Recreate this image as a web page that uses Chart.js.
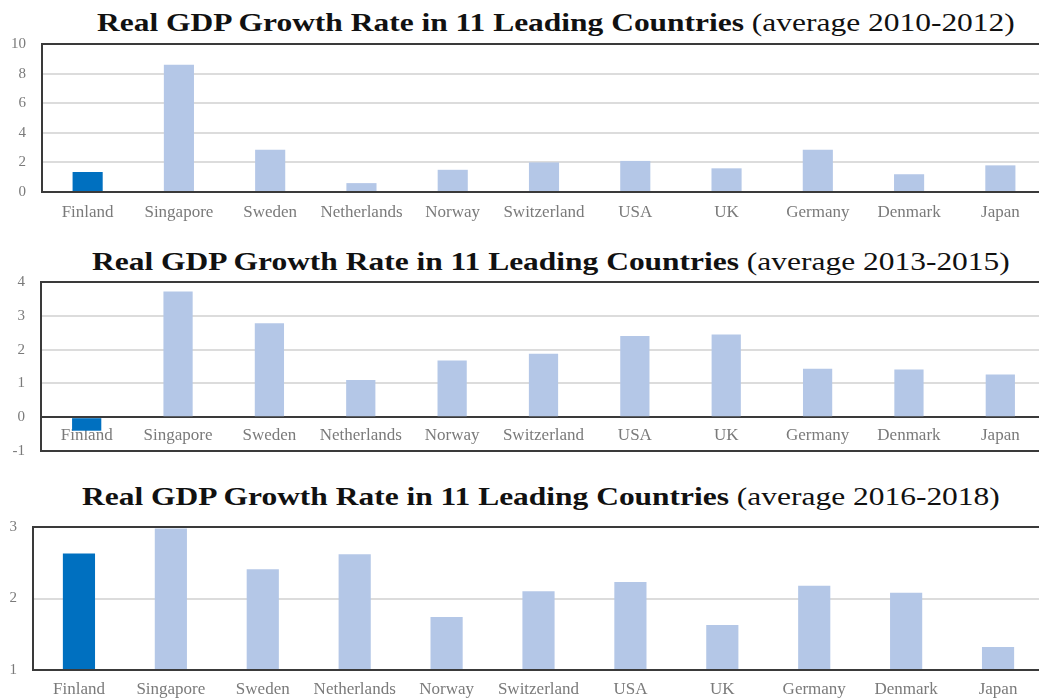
<!DOCTYPE html>
<html>
<head>
<meta charset="utf-8">
<script src="https://cdn.jsdelivr.net/npm/chart.js@4/dist/chart.umd.min.js"></script>
<style>
    body { margin: 0; background: #fff; width: 1039px; height: 698px; overflow: hidden; position: relative; }
    canvas { position: absolute; left: 0; }
    .title { position: absolute; white-space: nowrap; font-family: 'Liberation Serif', 'Times New Roman', serif; font-size: 26px; color: #111; line-height: 1; transform: scaleX(1.21); transform-origin: left center; }
    .title b { font-weight: bold; }
</style>
</head>
<body>
<div class="title" id="t1" style="left:97px; top:10px;"></div>
<canvas id="chart1" width="1050" height="205" style="top:30px;"></canvas>
<div class="title" id="t2" style="left:92px; top:249px;"></div>
<canvas id="chart2" width="1050" height="190" style="top:270px;"></canvas>
<div class="title" id="t3" style="left:82px; top:484px;"></div>
<canvas id="chart3" width="1050" height="193" style="top:505px;"></canvas>
<script>
const categories = ['Finland', 'Singapore', 'Sweden', 'Netherlands', 'Norway', 'Switzerland', 'USA', 'UK', 'Germany', 'Denmark', 'Japan'];
const growth2010to2012 = [1.35, 8.6, 2.85, 0.6, 1.5, 2.0, 2.1, 1.6, 2.85, 1.2, 1.8];
const growth2013to2015 = [-0.4, 3.72, 2.78, 1.1, 1.68, 1.88, 2.4, 2.45, 1.43, 1.41, 1.26];
const growth2016to2018 = [2.63, 2.98, 2.41, 2.62, 1.74, 2.1, 2.23, 1.63, 2.18, 2.08, 1.32];
const ticks1 = [0, 2, 4, 6, 8, 10];
const ticks2 = [-1, 0, 1, 2, 3, 4];
const ticks3 = [1, 2, 3];
const periods = ['2010-2012', '2013-2015', '2016-2018'];

const highlight = '#0070C0';
const others = '#B4C7E7';
const frameColor = '#3a3a3a';
const serif = "'Liberation Serif', 'Times New Roman', serif";

['t1', 't2', 't3'].forEach(function (id, i) {
    document.getElementById(id).innerHTML =
        '<b>Real GDP Growth Rate in 11 Leading Countries</b> (average ' + periods[i] + ')';
});

// box round the plot area (right side runs off the page like the original)
const frame = {
    id: 'frame',
    afterDatasetsDraw(chart) {
        const a = chart.chartArea;
        const c = chart.ctx;
        c.save();
        c.strokeStyle = frameColor;
        c.lineWidth = 2;
        c.strokeRect(a.left, a.top, a.right - a.left, a.bottom - a.top);
        c.restore();
    }
};

function makeChart(id, values, yTicks, opts) {
    const step = yTicks[1] - yTicks[0];
    new Chart(document.getElementById(id).getContext('2d'), {
        type: 'bar',
        data: {
            labels: categories,
            datasets: [{
                data: values,
                backgroundColor: categories.map(c => c === 'Finland' ? highlight : others),
                borderWidth: 0,
                categoryPercentage: 1,
                barPercentage: opts.barPct
            }]
        },
        options: {
            responsive: false,
            animation: false,
            layout: { padding: { top: opts.padTop, right: opts.padRight, bottom: 0, left: 0 } },
            scales: {
                x: {
                    position: opts.xPos,
                    offset: true,
                    grid: { display: false, drawTicks: false },
                    border: { display: true, color: frameColor, width: 2 },
                    ticks: { color: '#7a7a7a', padding: opts.xPad, maxRotation: 0, autoSkip: false, font: { family: serif, size: 17 } },
                    afterFit(s) { s.height = opts.xHeight; }
                },
                y: {
                    min: yTicks[0],
                    max: yTicks[yTicks.length - 1],
                    // invisible tick marks give the gap between labels and frame
                    grid: { color: '#dcdcdc', lineWidth: 2, drawTicks: true, tickLength: 16, tickColor: 'rgba(0,0,0,0)' },
                    border: { display: false },
                    ticks: { stepSize: step, color: '#7a7a7a', padding: 0, font: { family: serif, size: 15 } },
                    afterFit(s) { s.width = opts.yWidth; }
                }
            },
            plugins: {
                legend: { display: false },
                tooltip: { enabled: false }
            }
        },
        plugins: [frame]
    });
}

makeChart('chart1', growth2010to2012, ticks1, { barPct: 0.33, padTop: 14, padRight: 4, xPos: 'bottom', xHeight: 43, xPad: 10, yWidth: 42 });
makeChart('chart2', growth2013to2015, ticks2, { barPct: 0.32, padTop: 12, padRight: 4, xPos: { y: 0 }, xHeight: 11, xPad: 8, yWidth: 41 });
makeChart('chart3', growth2016to2018, ticks3, { barPct: 0.35, padTop: 22, padRight: 6, xPos: 'bottom', xHeight: 28, xPad: 9, yWidth: 33 });
</script>
</body>
</html>
